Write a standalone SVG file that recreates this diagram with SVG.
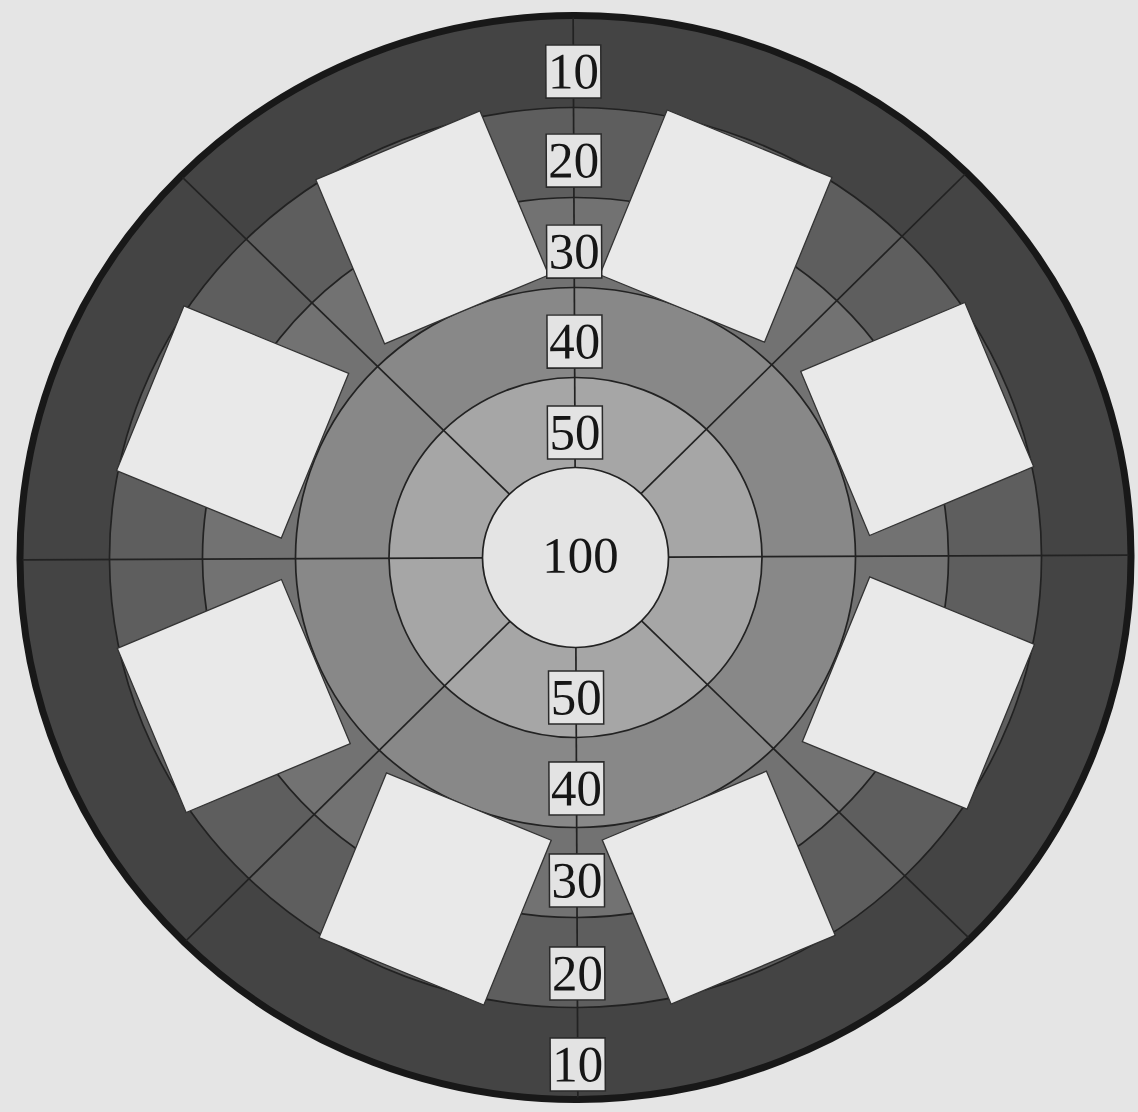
<svg xmlns="http://www.w3.org/2000/svg" width="1138" height="1112" viewBox="0 0 1138 1112">
<style>
.ring{stroke:#222222;stroke-width:1.7}
.spoke{stroke:#222222;stroke-width:1.7;fill:none}
.sq{fill:#e9e9e9;stroke:#333333;stroke-width:1.3}
.box{fill:#e3e3e3;stroke:#2a2a2a;stroke-width:1.5}
.lbl{font-family:"Liberation Serif","Times New Roman",serif;font-size:51px;fill:#161616;text-anchor:middle}
</style>
<rect width="1138" height="1112" fill="#e5e5e5"/>
<g transform="translate(575.5,557.5) rotate(-0.25)">
  <g id="rings">
    <ellipse id="ring10" rx="555.5" ry="542" fill="#444444" stroke="#181818" stroke-width="7"/>
    <ellipse id="ring20" class="ring" rx="466" ry="450" fill="#5e5e5e"/>
    <ellipse id="ring30" class="ring" rx="373" ry="360" fill="#727272"/>
    <ellipse id="ring40" class="ring" rx="280" ry="270" fill="#888888"/>
    <ellipse id="ring50" class="ring" rx="186.5" ry="180" fill="#a6a6a6"/>
    <ellipse id="ring100" class="ring" rx="93" ry="90" fill="#e4e4e4"/>
  </g>
  <g id="spokes">
    <line class="spoke" x1="0" y1="-90" x2="0" y2="-540"/>
    <line class="spoke" x1="0" y1="90" x2="0" y2="540"/>
    <line class="spoke" x1="93" y1="0" x2="553" y2="0"/>
    <line class="spoke" x1="-93" y1="0" x2="-553" y2="0"/>
    <line class="spoke" x1="65.8" y1="-63.6" x2="391.4" y2="-381.8"/>
    <line class="spoke" x1="-65.8" y1="-63.6" x2="-391.4" y2="-381.8"/>
    <line class="spoke" x1="65.8" y1="63.6" x2="391.4" y2="381.8"/>
    <line class="spoke" x1="-65.8" y1="63.6" x2="-391.4" y2="381.8"/>
  </g>
  <g id="squares">
    <rect id="sq1" class="sq" x="-89" y="-89" width="178" height="178" transform="translate(141.8,-330.8) rotate(22.5)"/>
    <rect id="sq2" class="sq" x="-89" y="-89" width="178" height="178" transform="translate(342.3,-137) rotate(67.5)"/>
    <rect id="sq3" class="sq" x="-89" y="-89" width="178" height="178" transform="translate(342.3,137) rotate(112.5)"/>
    <rect id="sq4" class="sq" x="-89" y="-89" width="178" height="178" transform="translate(141.8,330.8) rotate(157.5)"/>
    <rect id="sq5" class="sq" x="-89" y="-89" width="178" height="178" transform="translate(-141.8,330.8) rotate(202.5)"/>
    <rect id="sq6" class="sq" x="-89" y="-89" width="178" height="178" transform="translate(-342.3,137) rotate(247.5)"/>
    <rect id="sq7" class="sq" x="-89" y="-89" width="178" height="178" transform="translate(-342.3,-137) rotate(292.5)"/>
    <rect id="sq8" class="sq" x="-89" y="-89" width="178" height="178" transform="translate(-141.8,-330.8) rotate(337.5)"/>
  </g>
  <g id="labels">
    <g id="lblT10"><rect class="box" x="-27.5" y="-512.5" width="55" height="53"/><text class="lbl" x="0" y="-469">10</text></g>
    <g id="lblT20"><rect class="box" x="-27.5" y="-423.5" width="55" height="53"/><text class="lbl" x="0" y="-380">20</text></g>
    <g id="lblT30"><rect class="box" x="-27.5" y="-332.5" width="55" height="53"/><text class="lbl" x="0" y="-289">30</text></g>
    <g id="lblT40"><rect class="box" x="-27.5" y="-242.5" width="55" height="53"/><text class="lbl" x="0" y="-199">40</text></g>
    <g id="lblT50"><rect class="box" x="-27.5" y="-151.5" width="55" height="53"/><text class="lbl" x="0" y="-108">50</text></g>
    <g id="lbl100"><text class="lbl" x="5" y="15">100</text></g>
    <g id="lblB50"><rect class="box" x="-27.5" y="113.5" width="55" height="53"/><text class="lbl" x="0" y="157">50</text></g>
    <g id="lblB40"><rect class="box" x="-27.5" y="204.5" width="55" height="53"/><text class="lbl" x="0" y="248">40</text></g>
    <g id="lblB30"><rect class="box" x="-27.5" y="296.5" width="55" height="53"/><text class="lbl" x="0" y="340">30</text></g>
    <g id="lblB20"><rect class="box" x="-27.5" y="389.5" width="55" height="53"/><text class="lbl" x="0" y="433">20</text></g>
    <g id="lblB10"><rect class="box" x="-27.5" y="480.5" width="55" height="53"/><text class="lbl" x="0" y="524">10</text></g>
  </g>
</g>
</svg>
